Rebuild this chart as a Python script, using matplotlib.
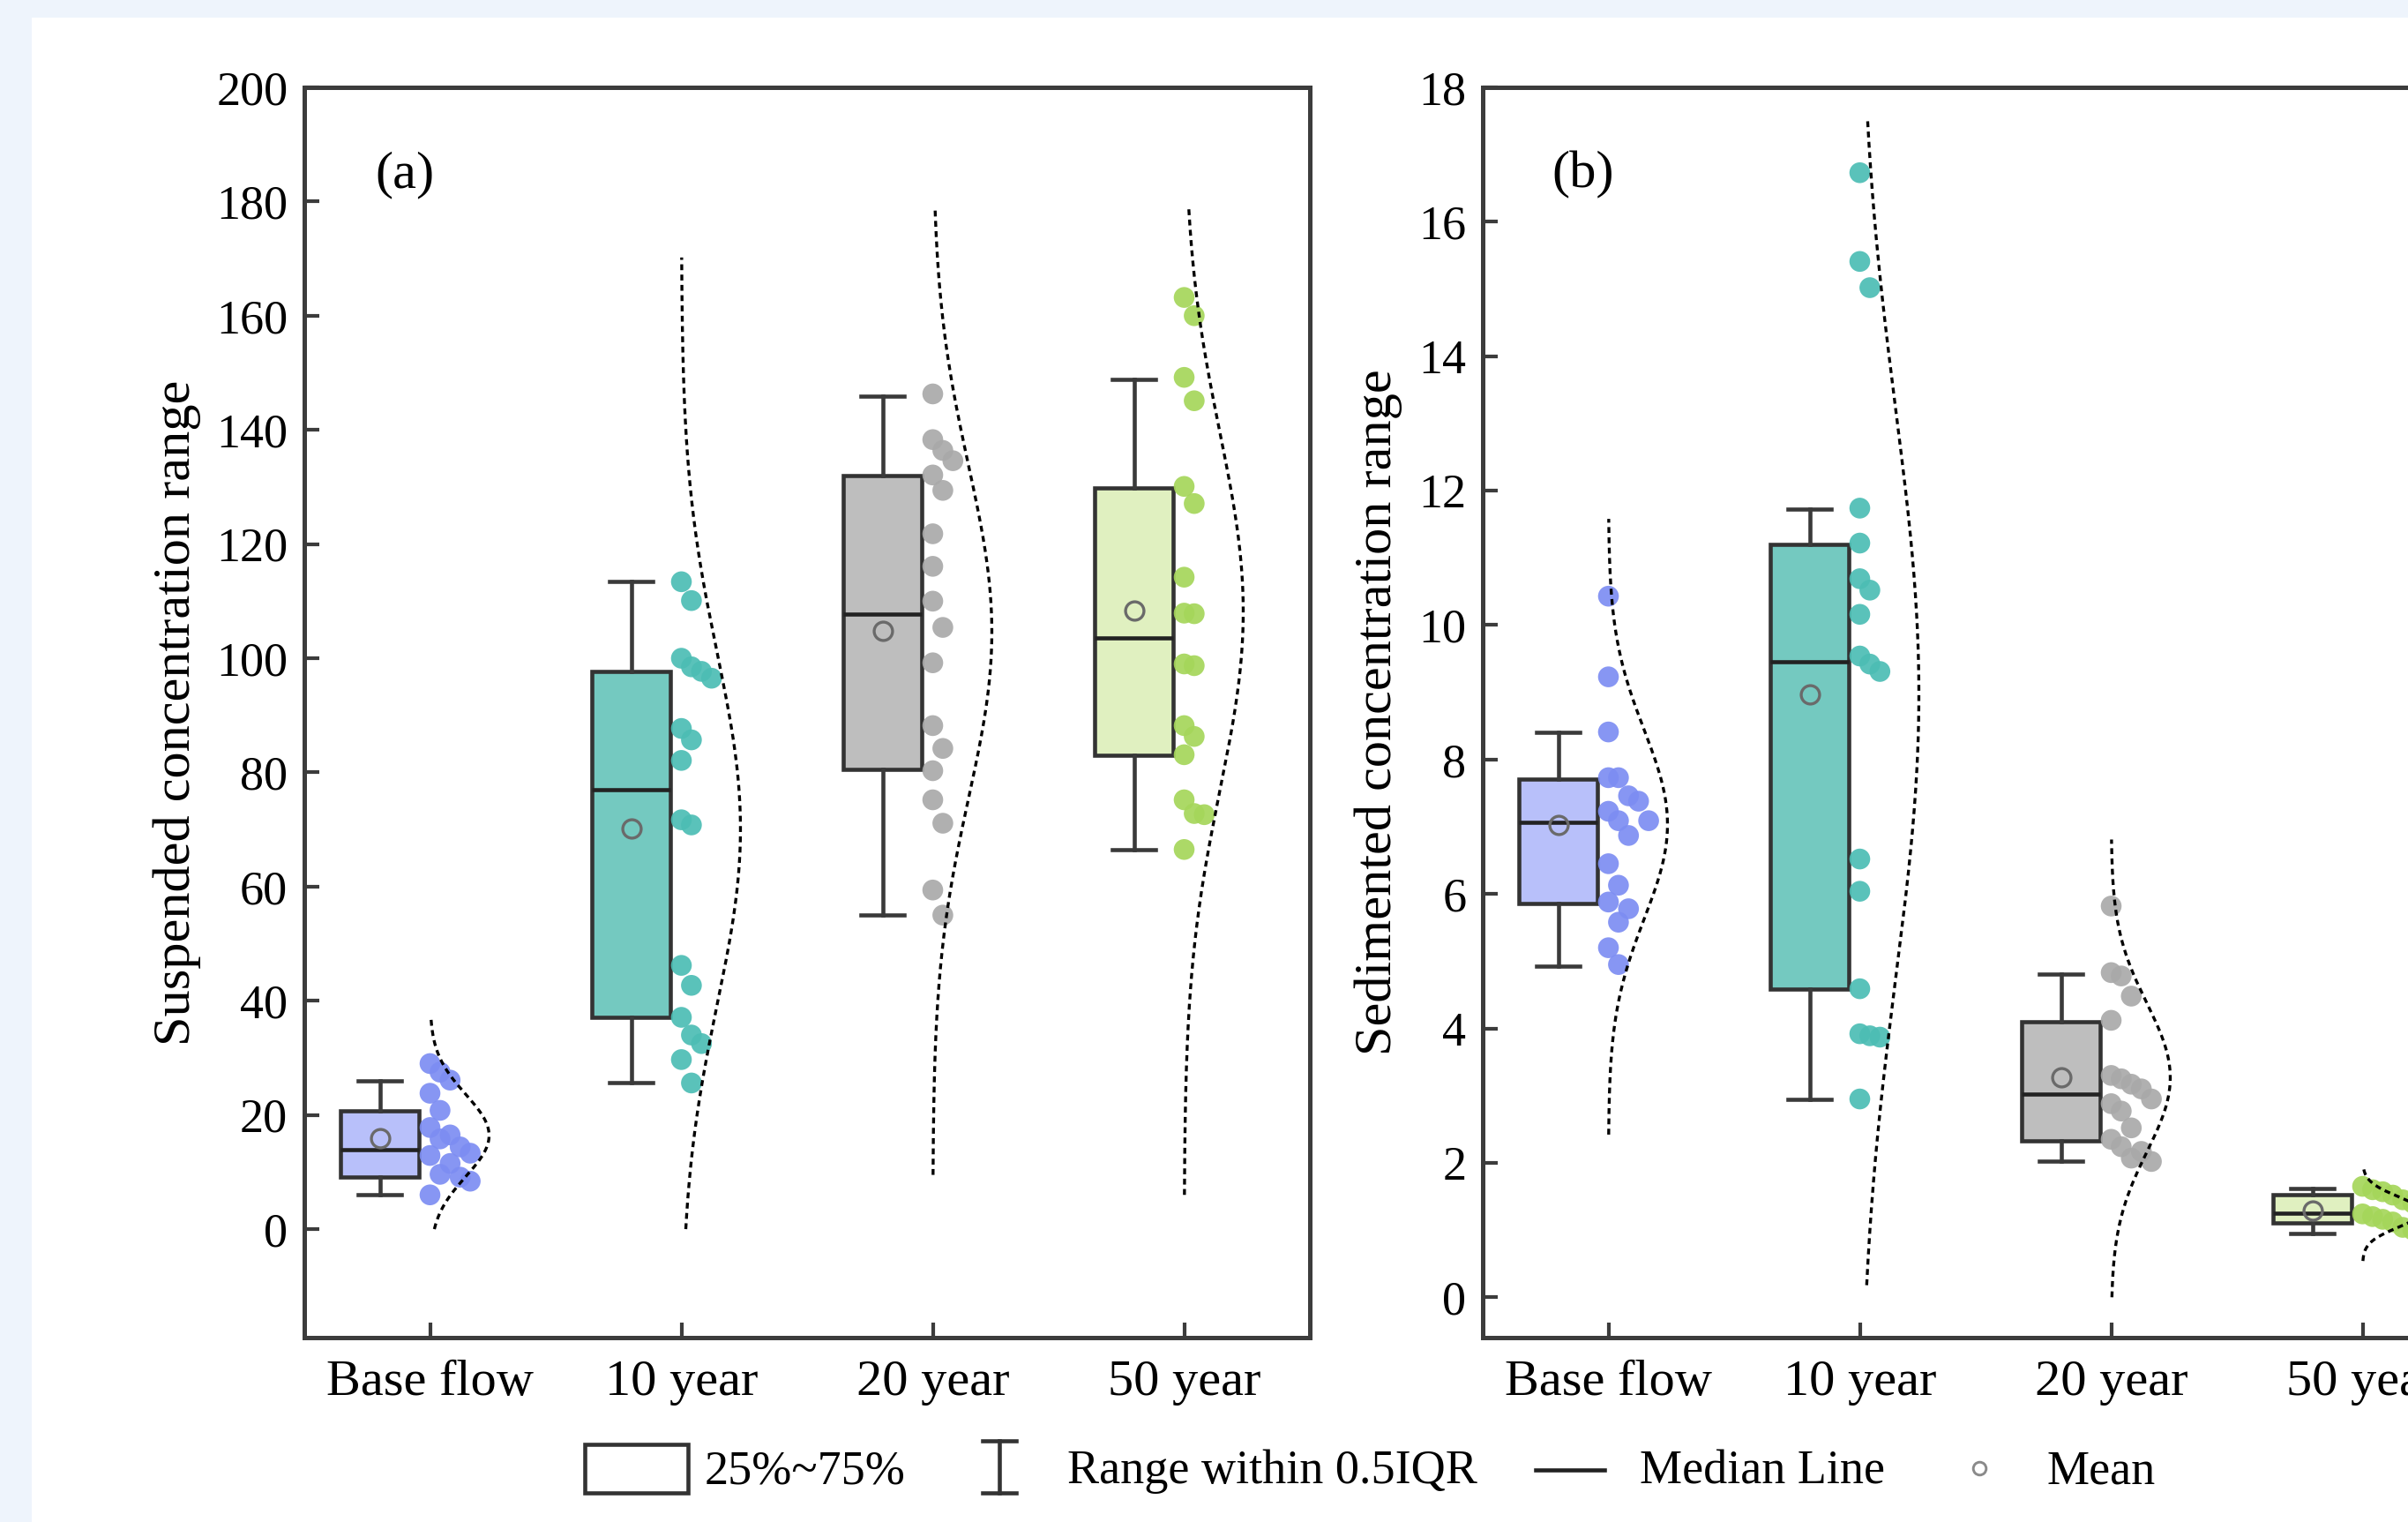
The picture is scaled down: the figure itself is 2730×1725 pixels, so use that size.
import numpy as np
import matplotlib
matplotlib.use('Agg')
import matplotlib.pyplot as plt
from matplotlib.patches import Rectangle
from matplotlib.lines import Line2D

plt.rcParams['font.family'] = ['Liberation Serif', 'DejaVu Serif']

# ---------------- data ----------------
categories = ['Base flow', '10 year', '20 year', '50 year']

# Panel (a): suspended concentration - individual points
susp_base = [29.0, 27.5, 26.1, 23.8, 20.8, 17.8, 16.5, 15.8, 14.4, 13.3, 12.9, 11.5, 9.6, 9.1, 8.4, 6.0]
susp_10 = [113.4, 110.1, 100.0, 98.5, 97.7, 96.5, 87.7, 85.7, 82.1, 71.7, 70.8, 46.2, 42.7, 37.1, 34.0, 32.5, 29.7, 25.6]
susp_20 = [146.3, 138.3, 136.4, 134.6, 132.1, 129.4, 121.8, 116.1, 110.0, 105.4, 99.2, 88.2, 84.2, 80.3, 75.2, 71.1, 59.4, 55.0]
susp_50 = [163.2, 160.0, 149.2, 145.1, 130.1, 127.1, 114.2, 107.9, 107.8, 99.0, 98.7, 88.2, 86.3, 83.1, 75.2, 72.8, 72.6, 66.5]

# Panel (a): box statistics
susp_q1 = [9.2, 37.1, 80.5, 83.0]
susp_med = [13.9, 76.9, 107.7, 103.5]
susp_q3 = [20.7, 97.7, 132.0, 129.9]
susp_wlo = [6.0, 25.6, 55.0, 66.5]
susp_whi = [25.9, 113.4, 145.9, 148.8]
susp_mean = [15.9, 70.2, 104.8, 108.3]
susp_curve_lo = [0.0, 0.0, 9.5, 6.0]
susp_curve_hi = [37.0, 170.2, 179.0, 179.0]

# Panel (b): sedimented concentration - individual points
sed_base = [10.43, 9.23, 8.41, 7.73, 7.73, 7.46, 7.38, 7.23, 7.09, 7.09, 6.87, 6.45, 6.13, 5.88, 5.78, 5.58, 5.20, 4.95]
sed_10 = [16.73, 15.41, 15.02, 11.74, 11.22, 10.69, 10.52, 10.16, 9.54, 9.42, 9.31, 6.52, 6.04, 4.59, 3.92, 3.89, 3.87, 2.95]
sed_20 = [5.82, 4.83, 4.78, 4.48, 4.12, 3.30, 3.25, 3.17, 3.10, 2.95, 2.88, 2.77, 2.52, 2.35, 2.24, 2.17, 2.07, 2.02]
sed_50 = [1.65, 1.60, 1.57, 1.52, 1.45, 1.40, 1.35, 1.30, 1.27, 1.24, 1.20, 1.16, 1.12, 1.08, 1.04, 1.00, 0.96, 0.93]

# Panel (b): box statistics
sed_q1 = [5.86, 4.59, 2.33, 1.11]
sed_med = [7.07, 9.46, 3.02, 1.25]
sed_q3 = [7.71, 11.20, 4.10, 1.52]
sed_wlo = [4.93, 2.95, 2.03, 0.95]
sed_whi = [8.40, 11.72, 4.81, 1.62]
sed_mean = [7.03, 8.97, 3.27, 1.29]
sed_curve_lo = [2.42, 0.18, 0.0, 0.54]
sed_curve_hi = [11.58, 17.54, 6.81, 1.92]

susp_yticks = list(range(0, 201, 20))
sed_yticks = list(range(0, 19, 2))

# ---------------- style ----------------
box_colors = ['#B8C0FA', '#74C9C0', '#BEBEBE', '#E0F0C0']
dot_colors = ['#7D8DF2', '#4CBDB4', '#A9A9A9', '#A5D65A']
edge_col = '#333333'
W, H = 2730, 1725

fig = plt.figure(figsize=(W / 300, H / 300), dpi=300)
fig.patch.set_facecolor('#EEF4FC')
fig.patches.append(Rectangle((36 / W, 0), 1.2, 1 - 20 / H, transform=fig.transFigure,
                             facecolor='white', edgecolor='none', zorder=-10))

axA = fig.add_axes([345 / W, 1 - 1516 / H, 1140 / W, 1417 / H])
axB = fig.add_axes([1681 / W, 1 - 1516 / H, 1140 / W, 1417 / H])
for a in (axA, axB):
    a.set_zorder(1)


def swarm_cols(vals, px_per_unit, thr_px=30):
    placed, cols = [], []
    for v in vals:
        k = 0
        while any(c == k and abs(v - pv) * px_per_unit < thr_px for c, pv in placed):
            k += 1
        placed.append((k, v))
        cols.append(k)
    return np.array(cols)


def draw_panel(ax, groups, q1, med, q3, wlo, whi, mean, clo, chi, ylim, yticks, label, panel_tag,
               label_x):
    ax.set_xlim(0.5, 4.5)
    ax.set_ylim(*ylim)
    px_per_unit = 1417 / (ylim[1] - ylim[0])
    stats = []
    for i in range(4):
        stats.append(dict(med=med[i], q1=q1[i], q3=q3[i], whislo=wlo[i], whishi=whi[i],
                          mean=mean[i], fliers=[]))
    pos = np.arange(1, 5)
    bp = ax.bxp(stats, positions=pos - 0.2, widths=0.31, capwidths=0.17, patch_artist=True,
                showmeans=True, showfliers=False, manage_ticks=False,
                boxprops=dict(edgecolor=edge_col, linewidth=1.1),
                medianprops=dict(color='#222222', linewidth=1.1),
                whiskerprops=dict(color='#3a3a3a', linewidth=1.1),
                capprops=dict(color='#3a3a3a', linewidth=1.1),
                meanprops=dict(marker='o', markerfacecolor='none', markeredgecolor='#6a6a6a',
                               markersize=5, markeredgewidth=0.8))
    for patch, c in zip(bp['boxes'], box_colors):
        patch.set_facecolor(c)
    for i, vals in enumerate(groups):
        vals = np.asarray(vals)
        cols = swarm_cols(vals, px_per_unit)
        ax.scatter(pos[i] + cols * 0.04, vals, s=32, color=dot_colors[i],
                   edgecolors='none', alpha=0.92, zorder=4, clip_on=True)
        mu, sd = vals.mean(), vals.std(ddof=1)
        yy = np.linspace(clo[i], chi[i], 300)
        xx = pos[i] + 0.235 * np.exp(-0.5 * ((yy - mu) / sd) ** 2)
        ax.plot(xx, yy, color='black', linestyle=(0, (2, 1.5)), linewidth=0.8, zorder=6)

    ax.set_xticks(pos)
    ax.set_xticklabels(categories, fontsize=14)
    ax.set_yticks(yticks)
    ax.set_yticklabels([str(t) for t in yticks], fontsize=13)
    ax.tick_params(axis='both', direction='in', length=4, width=1.0, color='#3c3c3c',
                   top=False, right=False)
    ax.tick_params(axis='x', pad=6)
    ax.tick_params(axis='y', pad=4.5)
    for sp in ax.spines.values():
        sp.set_linewidth(1.2)
        sp.set_color('#3c3c3c')
    ax.set_ylabel(label, fontsize=14.5)
    ax.yaxis.set_label_coords(label_x, 0.5)
    ax.text(0.1, 0.93, panel_tag, transform=ax.transAxes, fontsize=14.5,
            ha='center', va='center')


draw_panel(axA, [susp_base, susp_10, susp_20, susp_50], susp_q1, susp_med, susp_q3,
           susp_wlo, susp_whi, susp_mean, susp_curve_lo, susp_curve_hi, (-19, 200),
           susp_yticks, 'Suspended concentration range', '(a)', -0.1026)
draw_panel(axB, [sed_base, sed_10, sed_20, sed_50], sed_q1, sed_med, sed_q3,
           sed_wlo, sed_whi, sed_mean, sed_curve_lo, sed_curve_hi, (-0.6, 18),
           sed_yticks, 'Sedimented concentration range', '(b)', -0.0798)

# ---------------- legend (figure level) ----------------
def fx(x):
    return x / W


def fy(y):
    return 1 - y / H


ly = 1668
fig.patches.append(Rectangle((fx(663), fy(1692)), fx(780) - fx(663), fy(1637) - fy(1692),
                             transform=fig.transFigure, facecolor='white', edgecolor=edge_col,
                             linewidth=1.1, zorder=5))
fig.text(fx(799), fy(ly), '25%~75%', fontsize=13, ha='left', va='center')
fig.lines.append(Line2D([fx(1133), fx(1133)], [fy(1633), fy(1692)], transform=fig.transFigure,
                        color=edge_col, linewidth=1.1))
for yy in (1633, 1692):
    fig.lines.append(Line2D([fx(1114), fx(1152)], [fy(yy), fy(yy)], transform=fig.transFigure,
                            color=edge_col, linewidth=1.1))
fig.text(fx(1210), fy(ly), 'Range within 0.5IQR', fontsize=13, ha='left', va='center')
fig.lines.append(Line2D([fx(1741), fx(1819)], [fy(1666), fy(1666)], transform=fig.transFigure,
                        color='#222222', linewidth=1.1))
fig.text(fx(1859), fy(ly), 'Median Line', fontsize=13, ha='left', va='center')
fig.lines.append(Line2D([fx(2244)], [fy(1664)], transform=fig.transFigure, marker='o',
                        markerfacecolor='none', markeredgecolor='#8a8a8a', markersize=3.5,
                        markeredgewidth=0.7, linestyle='none'))
fig.text(fx(2321), fy(ly), 'Mean', fontsize=13, ha='left', va='center')

fig.savefig('out.png', dpi=300, facecolor=fig.get_facecolor())
